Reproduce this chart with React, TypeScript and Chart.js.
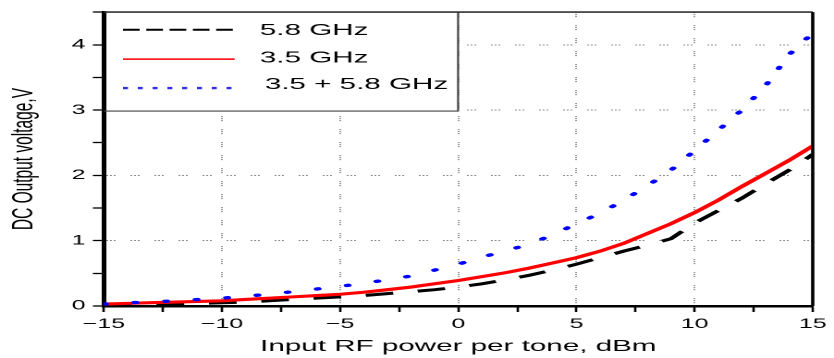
import React, { useEffect, useRef } from "react";
import { Chart, registerables } from "chart.js";

Chart.register(...registerables);

// ---- data ----
const powerDbm = [-15,-14,-13,-12,-11,-10,-9,-8,-7,-6,-5,-4,-3,-2,-1,0,1,2,3,4,5,6,7,8,9,10,11,12,13,14,15];
const v58 = [0.02,0.02,0.02,0.03,0.04,0.05,0.06,0.08,0.10,0.12,0.14,0.16,0.19,0.22,0.25,0.29,0.34,0.40,0.47,0.55,0.64,0.74,0.84,0.93,1.03,1.27,1.46,1.65,1.87,2.08,2.32];
const v35 = [0.03,0.04,0.05,0.06,0.07,0.08,0.10,0.12,0.14,0.16,0.18,0.21,0.25,0.29,0.34,0.39,0.45,0.51,0.58,0.66,0.74,0.84,0.96,1.11,1.26,1.43,1.62,1.83,2.03,2.23,2.45];
const vBoth = [0.03,0.05,0.06,0.08,0.10,0.12,0.15,0.18,0.22,0.26,0.30,0.35,0.40,0.46,0.55,0.64,0.75,0.84,0.95,1.09,1.26,1.42,1.62,1.84,2.08,2.38,2.69,3.0,3.37,3.85,4.18];
const seriesLabels = ["5.8 GHz", "3.5 GHz", "3.5 + 5.8 GHz"];
const xTitle = "Input RF power per tone, dBm";
const yTitle = "DC Output voltage,V";
const xMajor = [-10, -5, 0, 5, 10];
const yMajor = [1, 2, 3, 4];

// ---- layout (logical canvas is stretched horizontally like the reference) ----
const W = 451;
const H = 358;
const FONT = "'Liberation Sans', Arial, sans-serif";
const GRID_DASH = [1, 1, 1, 1, 1, 8];

const legendStyles = [
  { color: "#000000", width: 2, dash: [9, 3.6], cap: "butt" },
  { color: "#ff2020", width: 1.8, dash: [], cap: "butt" },
  { color: "#3030e0", width: 2.4, dash: [2.7, 5.3], cap: "butt" },
];

const framePlugin = {
  id: "frameLegend",
  afterDatasetsDraw(chart: any) {
    const { ctx, chartArea } = chart;
    const { left, right, top, bottom } = chartArea;
    ctx.save();
    // legend box
    const bw = 191.5;
    const bh = 99;
    ctx.fillStyle = "#ffffff";
    ctx.fillRect(left + 1.3, top, bw - 1.3, bh);
    ctx.strokeStyle = "#444444";
    ctx.lineWidth = 1.1;
    ctx.beginPath();
    ctx.moveTo(left, top + bh);
    ctx.lineTo(left + bw, top + bh);
    ctx.lineTo(left + bw, top);
    ctx.stroke();
    const sampleY = [17.7, 47, 76];
    const textY = [22.7, 50.3, 77];
    const textX = [84.3, 84.3, 87];
    chart.data.datasets.forEach((ds: any, i: number) => {
      const st = legendStyles[i];
      ctx.strokeStyle = st.color;
      ctx.lineWidth = st.width;
      ctx.lineCap = st.cap;
      ctx.setLineDash(st.dash);
      ctx.beginPath();
      ctx.moveTo(left + 10.3, top + sampleY[i]);
      ctx.lineTo(left + 70.7, top + sampleY[i]);
      ctx.stroke();
      ctx.setLineDash([]);
      ctx.fillStyle = "#000";
      ctx.font = `16px ${FONT}`;
      ctx.textBaseline = "alphabetic";
      ctx.textAlign = "left";
      ctx.fillText(ds.label, left + textX[i], top + textY[i]);
    });
    // frame top and right
    ctx.lineCap = "butt";
    ctx.strokeStyle = "#333333";
    ctx.lineWidth = 1.6;
    ctx.beginPath();
    ctx.moveTo(left, top);
    ctx.lineTo(right, top);
    ctx.stroke();
    ctx.strokeStyle = "#000000";
    ctx.lineWidth = 1.8;
    ctx.beginPath();
    ctx.moveTo(right, top);
    ctx.lineTo(right, bottom);
    ctx.stroke();
    ctx.restore();
  },
};

const fmt = (v: number) => (v < 0 ? "\u2212" + Math.abs(v) : String(v));

export default function App() {
  const ref = useRef<HTMLCanvasElement | null>(null);
  useEffect(() => {
    if (!ref.current) return;
    const toPts = (arr: number[]) => powerDbm.map((x, i) => ({ x, y: arr[i] }));
    const chart = new Chart(ref.current, {
      type: "line",
      data: {
        datasets: [
          { label: seriesLabels[0], data: toPts(v58), borderColor: "#000000", borderWidth: 3, borderDash: [15, 13.4], pointRadius: 0, order: 3 },
          { label: seriesLabels[1], data: toPts(v35), borderColor: "#ff0000", borderWidth: 3.1, pointRadius: 0, order: 2 },
          { label: seriesLabels[2], data: toPts(vBoth), borderColor: "#0000ff", borderWidth: 3.3, borderDash: [1, 15.6], borderCapStyle: "round", pointRadius: 0, order: 1 },
        ],
      },
      options: {
        responsive: false,
        animation: false,
        devicePixelRatio: 2,
        layout: { padding: { top: 9, right: 8.3, left: 0, bottom: 0 } },
        plugins: { legend: { display: false }, tooltip: { enabled: false } },
        scales: {
          x: {
            type: "linear",
            min: -15,
            max: 15,
            ticks: {
              stepSize: 2.5,
              autoSkip: false,
              maxRotation: 0,
              padding: 4,
              color: "#000",
              font: { family: FONT, size: 13.5 },
              callback: (v: any) => (Number(v) % 5 === 0 ? fmt(Number(v)) : ""),
            },
            grid: {
              color: (c: any) => (c.tick && xMajor.includes(c.tick.value) ? "#8a8a8a" : "rgba(0,0,0,0)"),
              lineWidth: 1,
              tickLength: 6,
              tickColor: "#000",
              tickWidth: 1.3,
            },
            border: { display: true, color: "#000", width: 2.5, dash: GRID_DASH },
            title: { display: true, text: xTitle, color: "#000", font: { family: FONT, size: 16 }, padding: { top: 0, bottom: 2 } },
            afterFit: (s: any) => { s.height = 52; },
          },
          y: {
            type: "linear",
            min: 0,
            max: 4.5,
            ticks: {
              stepSize: 0.5,
              autoSkip: false,
              padding: 4,
              color: "#000",
              font: { family: FONT, size: 13.5 },
              callback: (v: any) => (Number.isInteger(Number(v)) ? String(v) : ""),
            },
            grid: {
              color: (c: any) => (c.tick && yMajor.includes(c.tick.value) ? "#8a8a8a" : "rgba(0,0,0,0)"),
              lineWidth: 1,
              tickLength: 6,
              tickColor: "#000",
              tickWidth: 1.3,
            },
            border: { display: true, color: "#000", width: 2.5, dash: GRID_DASH },
            title: { display: true, text: yTitle, color: "#000", font: { family: FONT, size: 15.5 }, padding: { top: 4, bottom: 0 } },
            afterFit: (s: any) => { s.width = 56.2; },
          },
        },
      },
      plugins: [framePlugin],
    } as any);
    return () => chart.destroy();
  }, []);
  return (
    <canvas
      ref={ref}
      width={W}
      height={H}
      style={{ position: "absolute", left: 0, top: 0, width: "834px", height: "358px", display: "block" }}
    />
  );
}
